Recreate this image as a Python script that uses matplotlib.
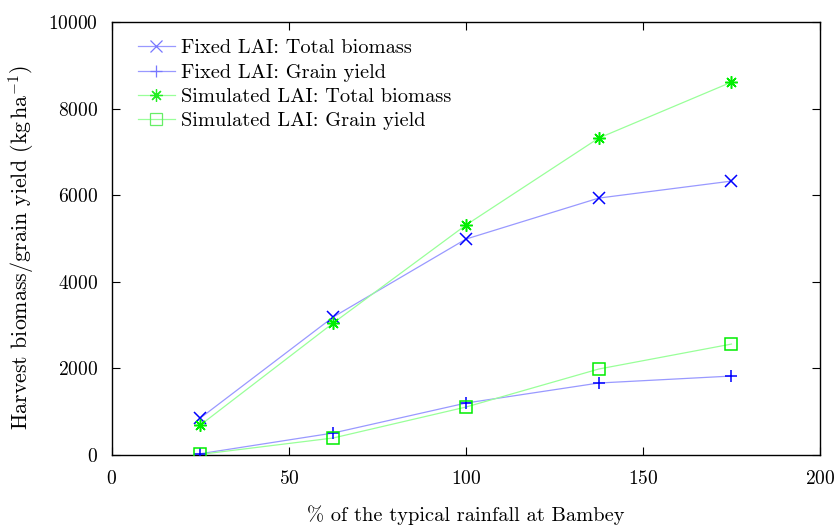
import matplotlib
matplotlib.use("Agg")
import matplotlib.pyplot as plt
from matplotlib.lines import Line2D

plt.rcParams['font.family'] = 'serif'
plt.rcParams['font.serif'] = ['cmr10']
plt.rcParams['mathtext.fontset'] = 'cm'
plt.rcParams['axes.formatter.use_mathtext'] = True
plt.rcParams['axes.unicode_minus'] = False

rainfall = [25, 62.5, 100, 137.5, 175]
fixed_total = [855, 3187, 4988, 5935, 6328]
fixed_grain = [30, 508, 1200, 1663, 1824]
sim_total = [693, 3048, 5312, 7321, 8614]
sim_grain = [15, 393, 1108, 1986, 2563]

fig = plt.figure(figsize=(8.35, 5.27), dpi=100)
ax = fig.add_axes([0.134, 0.1366, 0.848, 0.8214])

blue_line = '#9999ff'
blue_mark = '#0000ff'
green_line = '#99ff99'
green_mark = '#00ee00'

series = [
    (fixed_total, blue_line, blue_mark, 'x', 'Fixed LAI: Total biomass', '#7777ff'),
    (fixed_grain, blue_line, blue_mark, '+', 'Fixed LAI: Grain yield', '#7777ff'),
    (sim_total, green_line, green_mark, (8, 2, 0), 'Simulated LAI: Total biomass', '#22ee22'),
    (sim_grain, green_line, green_mark, 's', 'Simulated LAI: Grain yield', '#66ee66'),
]
handles = []
for ys, lc, mc, m, lab, legc in series:
    ax.plot(rainfall, ys, color=lc, lw=0.9, zorder=2)
    ax.plot(rainfall, ys, ls='none', marker=m, markersize=9, markeredgecolor=mc,
            markerfacecolor='none', markeredgewidth=1.1, zorder=3)
    handles.append(Line2D([], [], color=lc, lw=0.9, marker=m, markersize=9,
                          markeredgecolor=legc, markerfacecolor='none',
                          markeredgewidth=0.9, label=lab))

ax.set_xlim(0, 200)
ax.set_ylim(0, 10000)
ax.set_xticks([0, 50, 100, 150, 200])
ax.set_yticks([0, 2000, 4000, 6000, 8000, 10000])
ax.tick_params(direction='in', top=True, right=True, labelsize=14, length=6)
ax.tick_params(axis='x', pad=11)
ax.tick_params(axis='y', pad=10)
ax.set_xlabel('% of the typical rainfall at Bambey', fontsize=14.7, labelpad=12)
ax.set_ylabel(r'Harvest biomass/grain yield (kg$\,$ha$^{-1}$)', fontsize=15.8)
ax.yaxis.set_label_coords(-0.107, 0.48)
for s in ax.spines.values():
    s.set_linewidth(1.0)

ax.legend(handles=handles, loc='upper left', frameon=False, fontsize=14.7,
          handlelength=1.8, handletextpad=0.3, labelspacing=0.3,
          borderaxespad=0.0, bbox_to_anchor=(0.025, 0.98))

fig.savefig('out.png', dpi=100)
